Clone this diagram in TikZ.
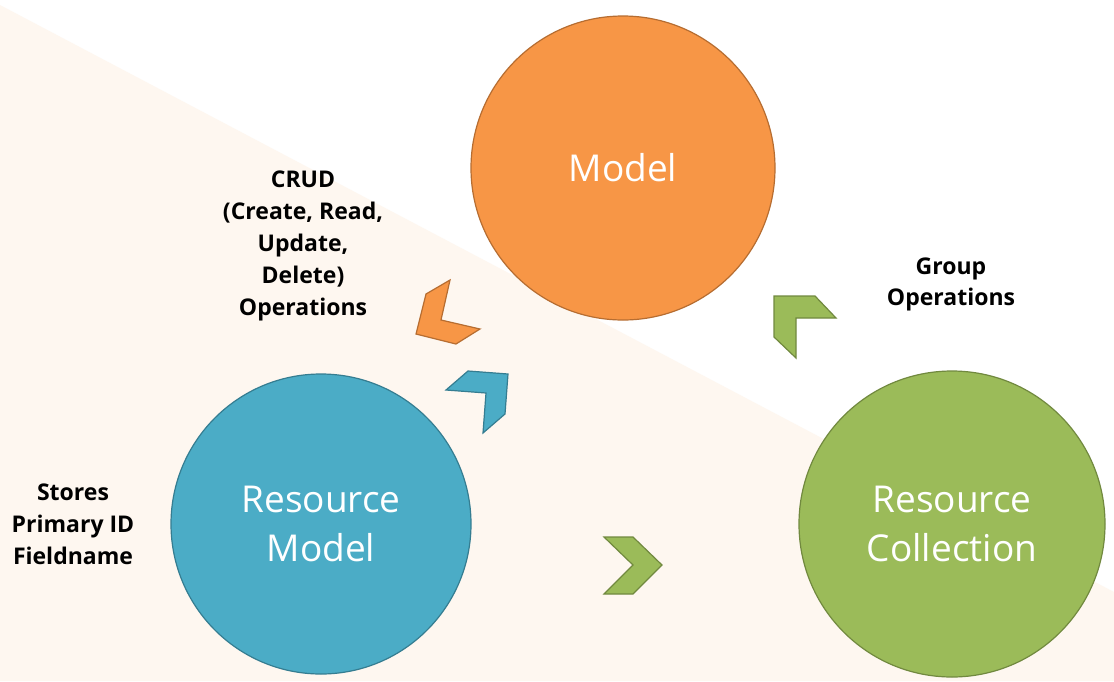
\documentclass[tikz,border=0pt]{standalone}
\usepackage{fontspec}
\setmainfont{Open Sans}
\definecolor{bgpeach}{RGB}{254,247,240}
\definecolor{orfill}{RGB}{247,150,70}
\definecolor{ordraw}{RGB}{182,109,49}
\definecolor{blfill}{RGB}{75,172,198}
\definecolor{bldraw}{RGB}{53,125,145}
\definecolor{grfill}{RGB}{155,187,89}
\definecolor{grdraw}{RGB}{113,137,63}
\tikzset{
  bubble/.style={circle, inner sep=0pt, line width=1.2pt, text=white, align=center,
    font=\fontsize{37}{49}\selectfont},
  lbl/.style={align=center, font=\bfseries\fontsize{23}{31.8}\selectfont, text=black},
  chev/.style={line width=1.2pt, line join=miter},
}
\begin{document}
\begin{tikzpicture}[x=1pt,y=-1pt]
\useasboundingbox (0,0) rectangle (1114,681);
\fill[white] (0,0) rectangle (1114,681);
\fill[bgpeach] (0,5) -- (1114,592) -- (1114,681) -- (0,681) -- cycle;

\node[bubble, fill=orfill, draw=ordraw, minimum size=304pt] (model) at (623,168) {Model};
\node[bubble, fill=blfill, draw=bldraw, minimum size=300pt] (rmodel) at (321,524) {Resource\\Model};
\node[bubble, fill=grfill, draw=grdraw, minimum size=306pt] (rcoll) at (952,524) {Resource\\Collection};

\node[lbl] (crud) at (303,246) {CRUD\\(Create, Read,\\Update,\\Delete)\\Operations};
\node[lbl] (group) at (951,284.5) {Group\\Operations};
\node[lbl] (stores) at (73,524.5) {Stores\\Primary ID\\Fieldname};

% chevrons
\draw[chev, fill=orfill, draw=ordraw] (450,280) -- (426,294) -- (416,334) -- (456,344) -- (480,329) -- (441,320) -- cycle;
\draw[chev, fill=blfill, draw=bldraw] (446,390) -- (468,371) -- (508,374) -- (505,414) -- (483,433) -- (486,393) -- cycle;
\draw[chev, fill=grfill, draw=grdraw] (774,296) -- (815,296) -- (836,318) -- (796,318) -- (796,358) -- (774,337) -- cycle;
\draw[chev, fill=grfill, draw=grdraw] (604,537) -- (633,537) -- (662,565) -- (633,594) -- (604,594) -- (633,565) -- cycle;
\end{tikzpicture}
\end{document}
